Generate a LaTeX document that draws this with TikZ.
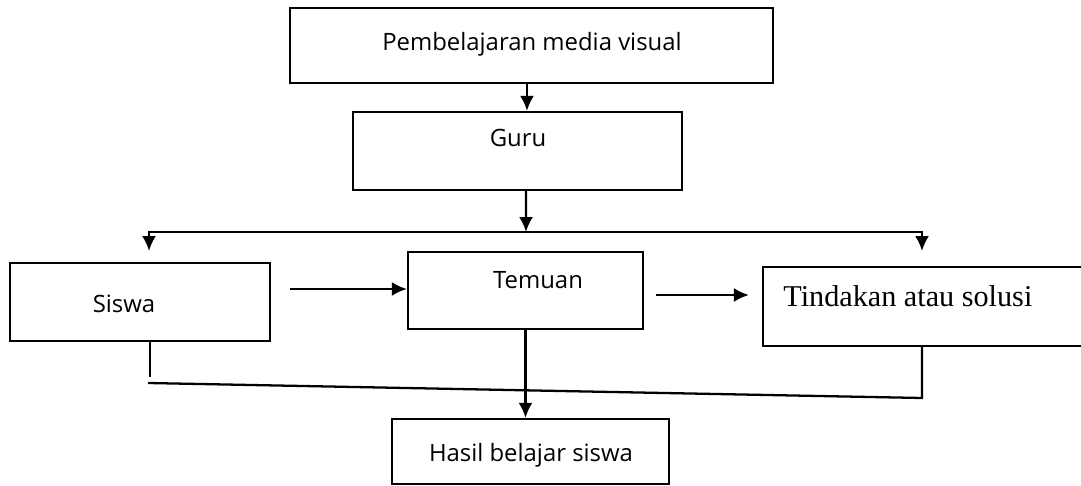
\documentclass[tikz,border=0pt]{standalone}
\usepackage{fontspec}
\usepackage{tikz}
\usetikzlibrary{arrows.meta, calc}
\newfontfamily\boxfont{Open Sans}
\newfontfamily\tndfont{Liberation Serif}

\begin{document}
\begin{tikzpicture}
                                [
                                    x=0.02cm, y=-0.02cm,
                                    box/.style = {draw, shape=rectangle, line width=1.3pt, inner sep=0pt},
                                    txt/.style = {font=\boxfont\fontsize{13.6}{16}\selectfont, inner sep=0pt},
                                    arr/.style = {line width=1.3pt, -{Latex[length=0.3cm,width=0.28cm]}},
                                    ln/.style = {line width=1.3pt},
                                ]
                                \useasboundingbox (0,0) rectangle (1081,486);
                                \clip (0,0) rectangle (1081,486);

                                \node[box, minimum width=9.66cm, minimum height=1.5cm] (pmv) at (531.5,45.5) {};
                                \node[box, minimum width=6.58cm, minimum height=1.56cm] (guru) at (517.5,151) {};
                                \node[box, minimum width=5.2cm, minimum height=1.56cm] (siswa) at (140,302) {};
                                \node[box, minimum width=4.7cm, minimum height=1.54cm] (temuan) at (525.5,290.5) {};
                                \node[box, minimum width=6.74cm, minimum height=1.58cm] (tindakan) at (931.5,306.5) {};
                                \node[box, minimum width=5.54cm, minimum height=1.3cm] (hasil) at (530.5,451.5) {};

                                \node[txt] (pmvt) at (532,44) {Pembelajaran media visual};
                                \node[txt] (gurut) at (518,138) {Guru};
                                \node[txt] (siswat) at (124,304) {Siswa};
                                \node[txt] (temuant) at (538,280) {Temuan};
                                \node[font=\tndfont\fontsize{17.2}{20}\selectfont, inner sep=0pt, anchor=west] (tindakant) at (783,296) {Tindakan atau solusi};
                                \node[txt] (hasilt) at (531,455) {Hasil belajar siswa};

                                \coordinate (split) at (526,232);
                                \coordinate (lsplit) at (149,232);
                                \coordinate (rsplit) at (922,232);
                                \coordinate (s2t) at (290,289);
                                \coordinate (t2a) at (656,295);
                                \coordinate (jl) at (148,383);
                                \coordinate (jr) at (922,398);

                                \draw [arr] ([xshift=-0.09cm]pmv.south) -- ([xshift=-0.09cm]pmv.south |- guru.north);
                                \draw [arr] ([xshift=0.17cm]guru.south) -- (split);
                                \draw [ln, {Latex[length=0.3cm,width=0.28cm]}-{Latex[length=0.3cm,width=0.28cm]}] ($(lsplit)+(0,19)$) -- (lsplit) -- (rsplit) -- ($(rsplit)+(0,19)$);

                                \draw [arr] (s2t) -- (s2t -| temuan.west);
                                \draw [arr, shorten >=0.26cm] (t2a) -- (t2a -| tindakan.west);
                                \draw [arr] (temuan.south) -- (temuan.south |- hasil.north);

                                \draw [ln] (siswa.south -| 150,0) -- ++(0,35);
                                \draw [ln] (jl) -- (jr) -- (jr |- tindakan.south);
                            \end{tikzpicture}
\end{document}
